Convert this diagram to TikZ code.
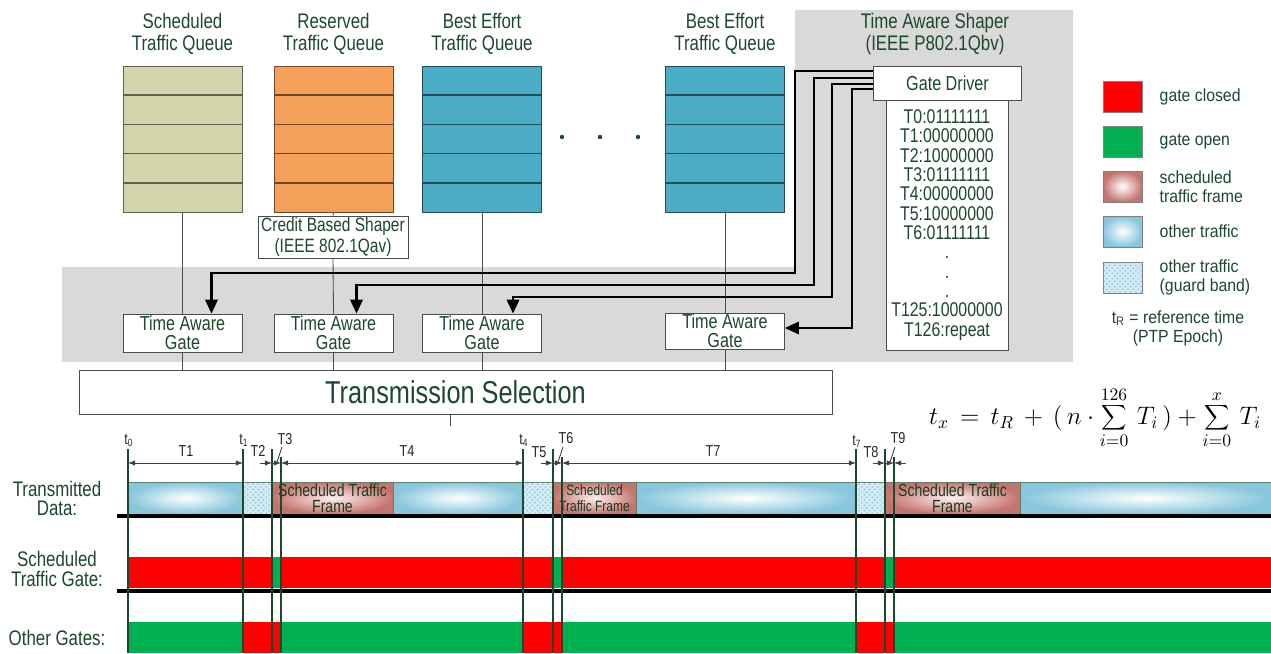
\documentclass[tikz,border=0pt]{standalone}
\usepackage{fontspec}
\setmainfont{Liberation Sans}[FakeStretch=0.8]
\newfontfamily\legendfont{Liberation Sans}[FakeStretch=0.9]
\usetikzlibrary{positioning, arrows.meta, calc, patterns}
\definecolor{tsngreen}{RGB}{28,72,44}
\definecolor{tsngray}{RGB}{217,217,217}
\definecolor{schedq}{RGB}{211,213,172}
\definecolor{resq}{RGB}{245,160,88}
\definecolor{beq}{RGB}{75,172,198}
\definecolor{gateclosed}{RGB}{255,0,0}
\definecolor{gateopen}{RGB}{0,176,80}
\definecolor{framered}{RGB}{196,116,110}
\definecolor{otherblue}{RGB}{135,198,220}
\definecolor{guardblue}{RGB}{212,234,242}

\begin{document}
\begin{tikzpicture}[x=0.02cm, y=-0.02cm,
    lbl/.style={align=center, text=tsngreen, inner sep=0,
                font=\fontsize{12}{12.5}\selectfont},
    queue/.style={draw=#1!45!black, fill=#1, inner sep=0,
                  minimum width=2.38cm, minimum height=2.92cm},
    gatebox/.style={draw=black!70, fill=white, inner sep=0, align=center,
                    minimum width=2.38cm, minimum height=0.76cm, text=tsngreen,
                    font=\fontsize{11.5}{10.8}\selectfont},
    wire/.style={black!70, line width=0.5pt},
    ctl/.style={line width=1.4pt, -{Triangle[length=8pt, width=7pt]}},
    tlab/.style={text=black!85, inner sep=0, font=\fontsize{9}{10}\selectfont},
    dim/.style={black!75, line width=0.5pt, >={Latex[length=4pt, width=3pt]}},
    tline/.style={tsngreen, line width=0.6pt},
    base/.style={black, line width=2.3pt},
    dataother/.style={draw=tsngreen!70, line width=0.4pt, inner color=white, outer color=otherblue},
    dataguard/.style={draw=tsngreen!70, line width=0.4pt, fill=guardblue,
                      postaction={pattern=crosshatch dots, pattern color=otherblue}},
    dataframe/.style={draw=tsngreen!70, line width=0.4pt, inner color=red!6, outer color=framered},
    gclosed/.style={fill=gateclosed},
    gopen/.style={fill=gateopen},
    framelbl/.style={align=center, text=tsngreen!80!black, inner sep=0},
    rowlbl/.style={align=center, text=tsngreen, inner sep=0,
                   font=\fontsize{12}{11.3}\selectfont},
    legbox/.style={draw=black!50, minimum width=0.78cm, minimum height=0.62cm, inner sep=0},
    legtext/.style={align=left, text=tsngreen, inner sep=0,
                    font=\legendfont\fontsize{10}{10.8}\selectfont}]
  \useasboundingbox (0,0) rectangle (1271,653);

  % Shaded areas
  \fill[tsngray] (795,10) rectangle (1073,362);
  \fill[tsngray] (62,267) rectangle (1073,362);

  % Queues
  \node[lbl] (l1) at (182.5,34) {Scheduled\\Traffic Queue};
  \node[lbl] (l2) at (333.5,34) {Reserved\\Traffic Queue};
  \node[lbl] (l3) at (482,34) {Best Effort\\Traffic Queue};
  \node[lbl] (l4) at (725,34) {Best Effort\\Traffic Queue};
  \node[queue=schedq] (q1) at (182.5,139) {};
  \node[queue=resq] (q2) at (333.5,139) {};
  \node[queue=beq] (q3) at (482,139) {};
  \node[queue=beq] (q4) at (725,139) {};
  \foreach \q/\c in {q1/schedq, q2/resq, q3/beq, q4/beq}
    \foreach \k in {1,...,4}
      \draw[\c!45!black, line width=0.6pt]
        ($(\q.north west)!\k/5!(\q.south west)$) -- ($(\q.north east)!\k/5!(\q.south east)$);
  \foreach \x in {562,600,638}
    \fill[tsngreen] (\x,137) circle (2.2);

  % Shaper
  \node[lbl, font=\fontsize{12}{13}\selectfont] (tas) at (935,34)
       {Time Aware Shaper\\(IEEE P802.1Qbv)};
  \node[draw=black!70, fill=white, minimum width=2.96cm, minimum height=0.68cm,
        inner sep=0, text=tsngreen, font=\fontsize{11.5}{12}\selectfont]
       (drv) at (947.5,83.5) {Gate Driver};
  \node[draw=black!70, fill=white, minimum width=2.44cm, minimum height=5cm,
        inner sep=0, align=center, text=tsngreen, font=\fontsize{11.3}{11}\selectfont]
       (sched) at (947,225) {T0:01111111\\T1:00000000\\T2:10000000\\T3:01111111\\
        T4:00000000\\T5:10000000\\T6:01111111\\.\\.\\.\\T125:10000000\\T126:repeat};
  \node[draw=black!70, fill=white, minimum width=3cm, minimum height=0.84cm,
        inner sep=0, align=center, text=tsngreen, font=\fontsize{11}{12}\selectfont]
       (cbs) at (333,237) {Credit Based Shaper\\(IEEE 802.1Qav)};

  % Gates
  \node[gatebox] (g1) at (182.5,333) {Time Aware\\Gate};
  \node[gatebox] (g2) at (333.5,333) {Time Aware\\Gate};
  \node[gatebox] (g3) at (482,333) {Time Aware\\Gate};
  \node[gatebox, minimum height=0.72cm] (g4) at (725,331) {Time Aware\\Gate};
  \node[draw=black!70, fill=white, minimum width=15.06cm, minimum height=0.88cm,
        inner sep=0, text=tsngreen, font=\fontsize{18}{20}\selectfont]
       (ts) at (455.5,392) {Transmission Selection};

  \draw[wire] (q1.south) -- (g1.north);
  \draw[wire] (q2.south) -- (cbs.north);
  \draw[wire] (cbs.south) -- (g2.north);
  \draw[wire] (q3.south) -- (g3.north);
  \draw[wire] (q4.south) -- (g4.north);
  \foreach \g in {g1,g2,g3,g4}
    \draw[wire] (\g.south) -- (\g.south |- ts.north);
  \draw[wire] ($(ts.south)+(-5,0)$) -- ++(0,12);

  % Gate control lines
  \draw[ctl] ($(drv.west)+(0,-12.5)$) -| (795,273) -| ($(g1.north)+(29,0)$);
  \draw[ctl] ($(drv.west)+(0,-5.5)$) -| (814,285) -| ($(g2.north)+(23,0)$);
  \draw[ctl] ($(drv.west)+(0,0.5)$) -| (832,297) -| ($(g3.north)+(31,0)$);
  \draw[ctl] ($(drv.west)+(0,5.5)$) -| ($(g4.east)+(67,-3)$) -- ($(g4.east)+(0,-3)$);

  % Legend
  \node[legbox, fill=gateclosed] (lg1) at (1122.5,96.5) {};
  \node[legbox, fill=gateopen] (lg2) at (1122.5,141.5) {};
  \node[legbox, inner color=white, outer color=framered] (lg3) at (1122.5,186.5) {};
  \node[legbox, inner color=white, outer color=otherblue] (lg4) at (1122.5,231.5) {};
  \node[legbox, fill=guardblue, postaction={pattern=crosshatch dots, pattern color=otherblue}]
       (lg5) at (1122.5,277.5) {};
  \node[legtext, right=0.34cm of lg1] {gate closed};
  \node[legtext, right=0.34cm of lg2] {gate open};
  \node[legtext, right=0.34cm of lg3] {scheduled\\traffic frame};
  \node[legtext, right=0.34cm of lg4] {other traffic};
  \node[legtext, right=0.34cm of lg5] {other traffic\\(guard band)};
  \node[legtext, align=center] (tref) at (1178,328)
       {t\textsubscript{R} = reference time\\(PTP Epoch)};

  % Formula
  \node[inner sep=0, font=\fontsize{14}{16}\selectfont] (fml) at (1095,418)
       {$\displaystyle t_x \,=\, t_R \,+\, (\,n\cdot\sum_{i=0}^{126}\,T_i\,) + \sum_{i=0}^{x}\,T_i$};

  % Timing
  \foreach \n/\x in {t0/128, t1/243, a2/272, a3/281, t4/523, a5/553, a6/562, t7/856, a8/885, a9/894}
    \coordinate (\n) at (\x,463);

  \foreach \a/\b/\s in {128/243/dataother, 243/272/dataguard, 272/393/dataframe,
      393/523/dataother, 523/553/dataguard, 553/636/dataframe, 636/856/dataother,
      856/885/dataguard, 885/1020/dataframe, 1020/1271/dataother}
    \path[\s] (\a,482) rectangle (\b,514);
  \foreach \a/\b/\s in {128/272/gclosed, 272/281/gopen, 281/553/gclosed, 553/562/gopen,
      562/885/gclosed, 885/894/gopen, 894/1271/gclosed}
    \path[\s] (\a,557) rectangle (\b,588);
  \foreach \a/\b/\s in {128/243/gopen, 243/281/gclosed, 281/523/gopen, 523/562/gclosed,
      562/856/gopen, 856/894/gclosed, 894/1271/gopen}
    \path[\s] (\a,622) rectangle (\b,653);

  \node[framelbl, font=\fontsize{10}{9.2}\selectfont] (f1) at (332.5,498) {Scheduled Traffic\\Frame};
  \node[framelbl, font=\fontsize{8.5}{9.2}\selectfont] (f2) at (594.5,498) {Scheduled\\Traffic Frame};
  \node[framelbl, font=\fontsize{10}{9.2}\selectfont] (f3) at (952.5,498) {Scheduled Traffic\\Frame};

  \draw[base] (117,516) -- (1271,516);
  \draw[base] (117,591) -- (1271,591);

  \foreach \x in {128,243,272,523,553,856,885}
    \draw[tline] (\x,449) -- (\x,653);
  \foreach \x in {281,562,894}
    \draw[tline] (\x,457) -- (\x,653);

  \draw[dim, <->] (t0) -- (t1);
  \draw[dim, <->] (a3) -- (t4);
  \draw[dim, <->] (a6) -- (t7);
  \foreach \p/\q in {t1/a2, t4/a5, t7/a8}
    \draw[dim, ->] ($(\q)+(-12,0)$) -- (\q);
  \foreach \p/\q in {a2/a3, a5/a6, a8/a9} {
    \draw[dim, ->] (\p) -- (\q);
    \draw[dim] ($(\p)+(5,-1)$) -- ($(\q)+(1,-16)$);
  }
  \draw[dim, <-] (a9) -- ++(12,0);

  \node[tlab] at (129,440) {t\textsubscript{0}};
  \node[tlab] at (244,440) {t\textsubscript{1}};
  \node[tlab] at (524,440) {t\textsubscript{4}};
  \node[tlab] at (857,441) {t\textsubscript{7}};
  \node[tlab] at (186,451) {T1};
  \node[tlab] at (407,451) {T4};
  \node[tlab] at (713,451) {T7};
  \node[tlab] at (258,451) {T2};
  \node[tlab] at (539,452) {T5};
  \node[tlab] at (871,452) {T8};
  \node[tlab] at (285,439) {T3};
  \node[tlab] at (566,438) {T6};
  \node[tlab] at (898,438) {T9};

  \node[rowlbl] (rdata) at (57,498.5) {Transmitted\\Data:};
  \node[rowlbl] (rgate) at (57,569) {Scheduled\\Traffic Gate:};
  \node[rowlbl] (rother) at (57,638) {Other Gates:};
\end{tikzpicture}
\end{document}
